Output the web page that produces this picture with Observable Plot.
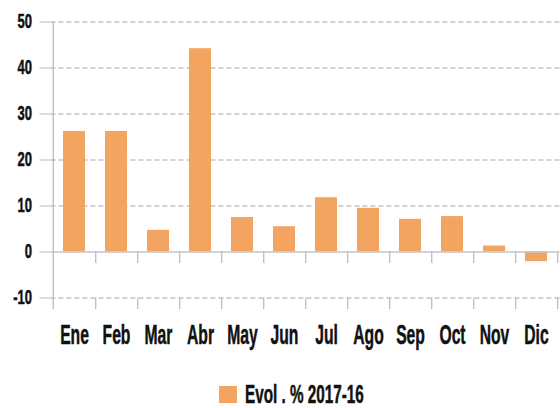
<!DOCTYPE html>
<html>
<head>
<meta charset="utf-8">
<script src="https://cdn.jsdelivr.net/npm/d3@7"></script>
<script src="https://cdn.jsdelivr.net/npm/@observablehq/plot@0.6"></script>
<style>
  html, body { margin: 0; padding: 0; background: #fff; }
  #wrap { position: relative; width: 560px; height: 408px; overflow: hidden; }
  #legend { position: absolute; left: 219px; top: 380px; height: 28px; display: flex; align-items: center;
    font-family: "Liberation Sans", Arial, sans-serif; font-weight: bold; color: #111; }
  #legend .sw { width: 18px; height: 17px; background: #F4A461; margin-right: 8px; flex: none; }
  #legend .tx { font-size: 25px; display: inline-block; transform: scaleX(0.61); transform-origin: left center; white-space: pre;
    -webkit-text-stroke: 0.5px #111; }
  #chart svg text { stroke: #111; stroke-width: 0.5px; }
</style>
</head>
<body>
<div id="wrap">
  <div id="chart"></div>
  <div id="legend"><span class="sw"></span><span class="tx" id="legendText"></span></div>
</div>
<script>
const months = ["Ene","Feb","Mar","Abr","May","Jun","Jul","Ago","Sep","Oct","Nov","Dic"];
const values = [26.2, 26.2, 4.7, 44.2, 7.5, 5.5, 11.8, 9.5, 7.1, 7.7, 1.3, -2.1];
const yTicks = [-10, 0, 10, 20, 30, 40, 50];
const seriesName = "Evol . % 2017-16";

const data = months.map((m, i) => ({month: m, value: values[i]}));

const W = 560, H = 360, ML = 50.5, MR = 0.5, MT = 21.5, MB = 62.5;
const step = (W - ML - MR) / months.length;
const orange = "#F4A461";

const plot = Plot.plot({
  width: W, height: H,
  marginLeft: ML, marginRight: MR, marginTop: MT, marginBottom: MB,
  style: {fontFamily: '"Liberation Sans", Arial, sans-serif', fontWeight: "bold", color: "#111", background: "#fff"},
  x: {domain: months, paddingInner: 0.48, paddingOuter: 0.24, align: 0.5, label: null},
  y: {domain: [-10, 50], label: null},
  marks: [
    Plot.ruleY(yTicks.filter(d => d !== 0), {stroke: "#c4c4c4", strokeWidth: 1.3, strokeDasharray: "5,3"}),
    Plot.barY(data, {x: "month", y: "value", fill: orange}),
    Plot.ruleY([0], {stroke: "#c4c4c4", strokeWidth: 1.3}),
    Plot.ruleX(months, {x: d => d, dx: step / 2, y1: 0, y2: -2.5, stroke: "#bdbdbd", strokeWidth: 1.3}),
    Plot.ruleX(months, {x: d => d, dx: step / 2, y1: -10, y2: -12.5, stroke: "#bdbdbd", strokeWidth: 1.3}),
    Plot.ruleX([months[0]], {x: d => d, dx: -step / 2, y1: -12.5, y2: 50, stroke: "#bdbdbd", strokeWidth: 1.3}),
    Plot.axisY({ticks: yTicks, tickSize: 11, tickPadding: 8, stroke: "#bdbdbd", fontSize: 20, tickFormat: d => String(d), fill: "#111"}),
    Plot.axisX({tickSize: 0, tickPadding: 26, fontSize: 28, fill: "#111"})
  ]
});

document.getElementById("chart").appendChild(plot);
document.getElementById("legendText").textContent = seriesName;

// condense the axis labels horizontally around their anchor points
function condense(selector, s) {
  plot.querySelectorAll(selector).forEach(el => {
    const t = el.getAttribute("transform") || "";
    el.setAttribute("transform", `${t} scale(${s},1)`);
  });
}
condense("g[aria-label='y-axis tick label'] text", 0.65);
condense("g[aria-label='x-axis tick label'] text", 0.56);
</script>
</body>
</html>
